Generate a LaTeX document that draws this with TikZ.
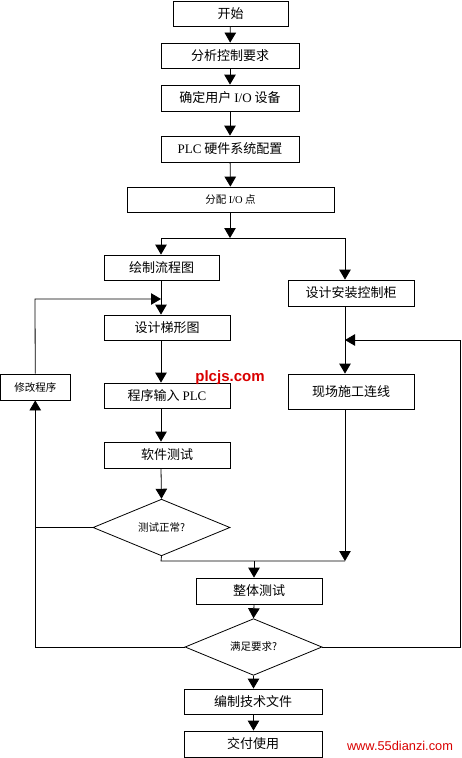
\documentclass[tikz,border=0pt]{standalone}
\usepackage{fontspec}
\setmainfont{Liberation Serif}
\newfontfamily\cjk{Noto Sans CJK SC}
\newfontfamily\wmfont{Liberation Sans}
\usetikzlibrary{arrows.meta,shapes.geometric}
\tikzset{
  box/.style={draw, line width=0.8pt, inner sep=0pt, font=\cjk\fontsize{13}{15}\selectfont},
  smallbox/.style={box, font=\cjk\fontsize{10.5}{12}\selectfont},
  decision/.style={draw, line width=0.8pt, diamond, inner sep=0pt, font=\cjk\fontsize{10.5}{12}\selectfont},
  conn/.style={line width=0.8pt},
  arr/.style={conn, -{Triangle[width=11.5pt,length=10pt]}},
  wmark/.style={text=red!85!black}
}
\begin{document}
\begin{tikzpicture}[x=1pt,y=-1pt]
\useasboundingbox (0,0) rectangle (461,758);
% boxes
\node[box, minimum width=115pt, minimum height=25pt] (start) at (230.5,13.5) {开始};
\node[box, minimum width=138pt, minimum height=25pt] (analyze) at (230,55.5) {分析控制要求};
\node[box, minimum width=138pt, minimum height=26pt] (io) at (230,98) {确定用户 {\rmfamily I/O} 设备};
\node[box, minimum width=138pt, minimum height=26pt] (hw) at (230,149) {{\rmfamily PLC} 硬件系统配置};
\node[smallbox, minimum width=207pt, minimum height=25pt] (alloc) at (230.5,199.5) {分配 {\rmfamily I/O} 点};
\node[box, minimum width=115pt, minimum height=25pt] (flow) at (161.5,267.5) {绘制流程图};
\node[box, minimum width=126pt, minimum height=26pt] (cab) at (351,293) {设计安装控制柜};
\node[box, minimum width=126pt, minimum height=25pt] (ladder) at (167,327.5) {设计梯形图};
\node[smallbox, minimum width=69.5pt, minimum height=26pt] (modify) at (35.25,387) {修改程序};
\node[box, minimum width=126pt, minimum height=25pt] (input) at (167,395.5) {程序输入 {\rmfamily PLC}};
\node[box, minimum width=126pt, minimum height=35pt] (wire) at (351,391.5) {现场施工连线};
\node[box, minimum width=126pt, minimum height=26pt] (soft) at (167,455) {软件测试};
\node[decision, minimum width=137pt, minimum height=49pt] (d1) at (161.5,527.5) {测试正常?};
\node[box, minimum width=126pt, minimum height=26pt] (whole) at (259,591) {整体测试};
\node[decision, minimum width=137pt, minimum height=50pt] (d2) at (253.5,647) {满足要求?};
\node[box, minimum width=138pt, minimum height=25pt] (doc) at (253,701.5) {编制技术文件};
\node[box, minimum width=138pt, minimum height=26pt] (deliver) at (253,744) {交付使用};
% watermarks
\node[wmark, font=\wmfont\bfseries\fontsize{15}{17}\selectfont] (wm1) at (230,378) {plcjs.com};
\node[wmark, font=\wmfont\fontsize{12.8}{15}\selectfont] (wm2) at (400,746) {www.55dianzi.com};
% coordinates
\coordinate (jL) at (161,238);
\coordinate (jR) at (345,238);
\coordinate (jC) at (230,238);
\coordinate (fb) at (161,299);
\coordinate (fbL) at (35,299);
\coordinate (mL) at (161,561);
\coordinate (mR) at (345,561);
\coordinate (mC) at (254,561);
\coordinate (rt) at (460,340);
\coordinate (rj) at (345,340);
% top chain
\draw[arr] (start) -- (analyze);
\draw[arr] (analyze) -- (io);
\draw[arr] (io) -- (hw);
\draw[arr] (hw) -- (alloc);
\draw[arr] (alloc.south -| jC) -- (jC);
\draw[conn] (jL) -- (jR);
\draw[arr] (jL) -- (jL |- flow.north);
\draw[arr] (jR) -- (jR |- cab.north);
% left chain
\draw[arr] (jL |- flow.south) -- (jL |- ladder.north);
\draw[arr] (jL |- ladder.south) -- (jL |- input.north);
\draw[arr] (jL |- input.south) -- (jL |- soft.north);
\draw[arr] (jL |- soft.south) -- (d1.north);
\draw[arr] (modify.north) -- (fbL) -- (fb);
\draw[conn] (d1.west) -- (d1.west -| modify.south);
\draw[arr] (d2.west) -| (modify.south);
\draw[conn] (d1.south) -- (mL) -- (mR);
% right chain
\draw[arr] (jR |- cab.south) -- (jR |- wire.north);
\draw[arr] (jR |- wire.south) -- (mR);
\draw[arr] (d2.east) -| (rt) -- (rj);
% bottom chain
\draw[arr] (mC) -- (mC |- whole.north);
\draw[arr] (mC |- whole.south) -- (d2.north);
\draw[arr] (d2.south) -- (d2.south |- doc.north);
\draw[arr] (d2.south |- doc.south) -- (d2.south |- deliver.north);
\end{tikzpicture}
\end{document}
